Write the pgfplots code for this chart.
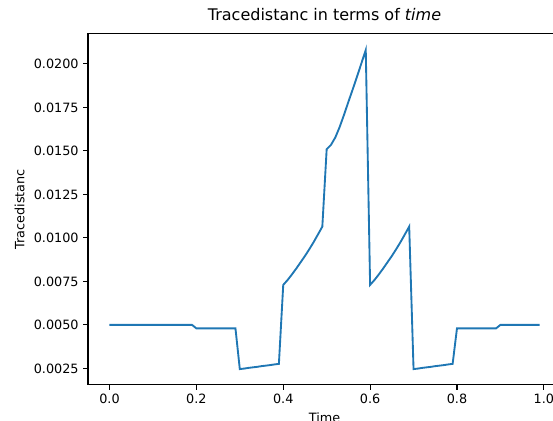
\documentclass[border=0pt]{standalone}
\usepackage{fontspec}
\setmainfont{DejaVu Sans}
\usepackage{pgfplots}
\pgfplotsset{compat=1.18}
\definecolor{mplblue}{RGB}{31,119,180}

\begin{document}
\begin{tikzpicture}
\begin{axis}[
  scale only axis,
  width=354.75pt, height=263.6pt,
  xmin=-0.0495, xmax=1.0395,
  ymin=0.00155, ymax=0.02175,
  xtick={0,0.2,0.4,0.6,0.8,1.0},
  ytick={0.0025,0.005,0.0075,0.01,0.0125,0.015,0.0175,0.02},
  xtick pos=bottom, ytick pos=left,
  tick align=outside,
  major tick length=3.5pt,
  tick style={black, line width=0.8pt},
  axis line style={black, line width=0.8pt},
  scaled y ticks=false,
  /pgf/number format/assume math mode=true,
  xticklabel style={/pgf/number format/.cd, fixed, fixed zerofill, precision=1},
  yticklabel style={/pgf/number format/.cd, fixed, fixed zerofill, precision=4},
  tick label style={font=\fontsize{9.6}{11}\selectfont},
  label style={font=\fontsize{9.6}{11}\selectfont},
  title={Tracedistanc in terms of \textit{time}},
  title style={font=\fontsize{12}{14}\selectfont},
  xlabel={Time},
  ylabel={Tracedistanc},
]
\addplot[mplblue, line width=1.4pt] coordinates {
  (0.00,0.0050) (0.01,0.0050) (0.02,0.0050) (0.03,0.0050) (0.04,0.0050)
  (0.05,0.0050) (0.06,0.0050) (0.07,0.0050) (0.08,0.0050) (0.09,0.0050)
  (0.10,0.0050) (0.11,0.0050) (0.12,0.0050) (0.13,0.0050) (0.14,0.0050)
  (0.15,0.0050) (0.16,0.0050) (0.17,0.0050) (0.18,0.0050) (0.19,0.0050)
  (0.20,0.0048) (0.21,0.0048) (0.22,0.0048) (0.23,0.0048) (0.24,0.0048)
  (0.25,0.0048) (0.26,0.0048) (0.27,0.0048) (0.28,0.0048) (0.29,0.0048)
  (0.30,0.00246) (0.31,0.00249) (0.32,0.00253) (0.33,0.00256) (0.34,0.00259)
  (0.35,0.00263) (0.36,0.00266) (0.37,0.00269) (0.38,0.00273) (0.39,0.00276)
  (0.40,0.00730) (0.41,0.00758) (0.42,0.00790) (0.43,0.00824) (0.44,0.00860)
  (0.45,0.00896) (0.46,0.00935) (0.47,0.00976) (0.48,0.01020) (0.49,0.01065)
  (0.50,0.01510) (0.51,0.01535) (0.52,0.01578) (0.53,0.01638) (0.54,0.01708)
  (0.55,0.01782) (0.56,0.01854) (0.57,0.01928) (0.58,0.02004) (0.59,0.02080)
  (0.60,0.00730) (0.61,0.00758) (0.62,0.00790) (0.63,0.00824) (0.64,0.00860)
  (0.65,0.00896) (0.66,0.00935) (0.67,0.00976) (0.68,0.01020) (0.69,0.01065)
  (0.70,0.00246) (0.71,0.00249) (0.72,0.00253) (0.73,0.00256) (0.74,0.00259)
  (0.75,0.00263) (0.76,0.00266) (0.77,0.00269) (0.78,0.00273) (0.79,0.00276)
  (0.80,0.0048) (0.81,0.0048) (0.82,0.0048) (0.83,0.0048) (0.84,0.0048)
  (0.85,0.0048) (0.86,0.0048) (0.87,0.0048) (0.88,0.0048) (0.89,0.0048)
  (0.90,0.0050) (0.91,0.0050) (0.92,0.0050) (0.93,0.0050) (0.94,0.0050)
  (0.95,0.0050) (0.96,0.0050) (0.97,0.0050) (0.98,0.0050) (0.99,0.0050)
};
\end{axis}
% the reference is cropped on the right and at the bottom
\pgfresetboundingbox
\path[use as bounding box] ([shift={(-66pt,-27pt)}]current axis.south west)
  rectangle ([shift={(-6pt,25.1pt)}]current axis.north east);
\end{tikzpicture}
\end{document}
